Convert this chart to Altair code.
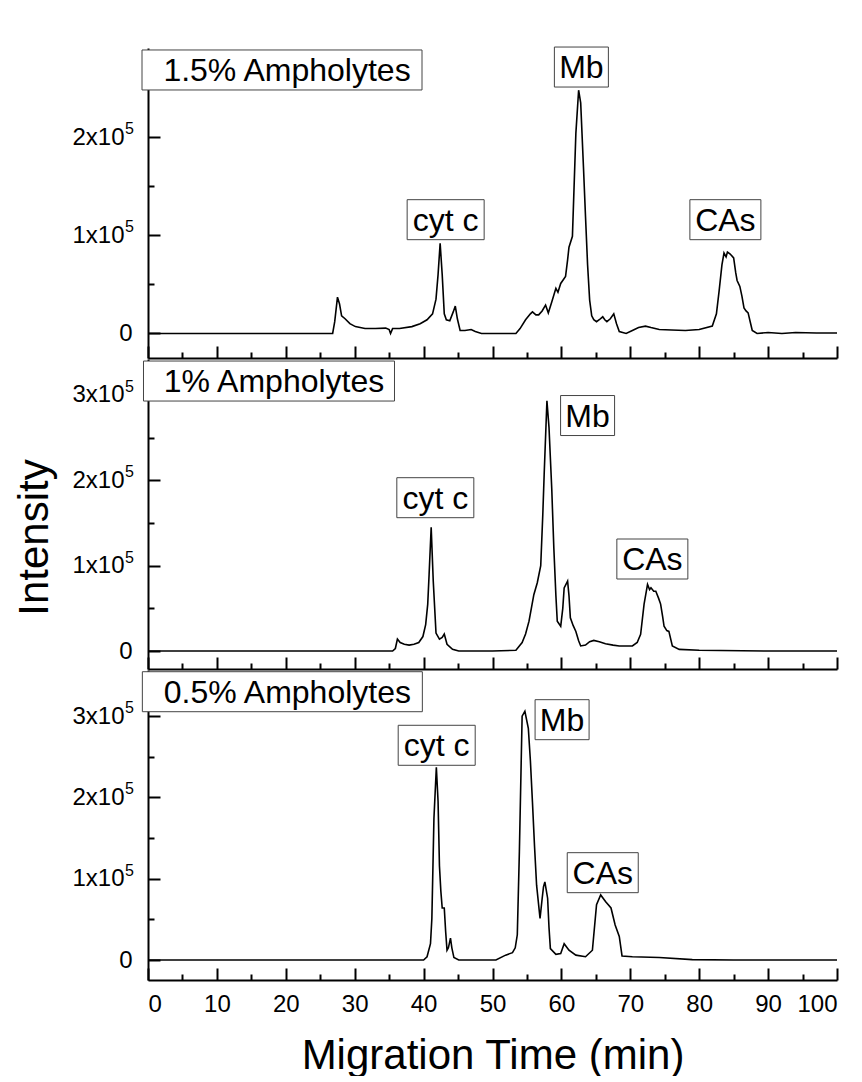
import altair as alt
import pandas as pd

FONT = "Liberation Sans"

# ---------------- data (intensity in units of 1e5) ----------------
top_time = [0, 10, 20, 26.8, 27.1, 27.5, 27.8, 28.1, 28.6, 29.3, 30.1, 31.5, 33, 34.5, 35.0, 35.2, 35.5,
            36.5, 38.3, 39.5, 40.5, 41.3, 41.8, 42.1, 42.4, 42.7, 43.0, 43.3, 43.8, 44.3, 44.6, 44.9,
            45.3, 46.0, 46.9, 47.5, 48.4, 50, 53.4, 54.0, 54.8, 55.5, 55.8, 56.3, 56.7, 57.2, 57.7,
            58.1, 58.6, 59.2, 59.5, 59.9, 60.3, 60.6, 60.9, 61.1, 61.6, 62.1, 62.5, 62.8, 63.2, 63.5,
            63.8, 64.1, 64.4, 64.7, 65.1, 65.5, 66.0, 66.3, 66.6, 67.1, 67.6, 68.0, 68.4, 69.4, 70.3,
            71.2, 72.2, 73.0, 74.2, 76, 78.0, 80, 81.9, 82.5, 82.9, 83.3, 83.6, 83.9, 84.1, 84.5, 85.0,
            85.3, 85.5, 85.9, 86.2, 86.5, 86.8, 87.1, 87.4, 87.7, 88.4, 90, 92, 94, 97, 100]
top_int = [0, 0, 0, 0, 0.12, 0.37, 0.30, 0.18, 0.15, 0.10, 0.07, 0.05, 0.05, 0.055, 0.04, 0.0, 0.05,
           0.05, 0.07, 0.10, 0.14, 0.20, 0.35, 0.60, 0.92, 0.60, 0.20, 0.14, 0.13, 0.22, 0.28, 0.15,
           0.03, 0.03, 0.04, 0.02, 0.0, 0.0, 0.0, 0.05, 0.14, 0.20, 0.22, 0.19, 0.19, 0.23, 0.29,
           0.21, 0.32, 0.46, 0.42, 0.51, 0.55, 0.58, 0.75, 0.88, 0.99, 2.04, 2.48, 2.35, 1.70, 1.19,
           0.70, 0.34, 0.18, 0.14, 0.12, 0.14, 0.17, 0.14, 0.12, 0.15, 0.20, 0.10, 0.02, 0.0, 0.03,
           0.06, 0.075, 0.06, 0.04, 0.035, 0.03, 0.04, 0.075, 0.20, 0.44, 0.70, 0.82, 0.78, 0.83, 0.81,
           0.77, 0.62, 0.54, 0.48, 0.38, 0.26, 0.23, 0.21, 0.12, 0.03, 0.0, 0.01, 0.0, 0.01, 0.005, 0.005]

mid_time = [0, 20, 35.5, 35.9, 36.2, 36.6, 37.2, 37.9, 38.6, 39.3, 39.9, 40.3, 40.6, 40.8, 41.1, 41.4,
            41.8, 42.3, 42.7, 43.0, 43.4, 44.2, 45.1, 50, 53.4, 54.3, 54.8, 55.3, 56.0, 56.5, 57.0,
            57.3, 57.5, 57.9, 58.2, 58.6, 58.9, 59.2, 59.4, 59.9, 60.2, 60.4, 60.9, 61.1, 61.3, 61.7,
            62.1, 62.5, 62.8, 63.5, 64.1, 64.7, 65.5, 66.4, 67.5, 68.4, 70.3, 71.0, 71.5, 72.0, 72.5,
            72.8, 73.0, 73.4, 73.7, 74.1, 74.4, 74.7, 74.9, 75.3, 75.6, 76.1, 77.1, 80, 90, 100]
mid_int = [0, 0, 0, 0.03, 0.14, 0.10, 0.08, 0.07, 0.08, 0.10, 0.17, 0.31, 0.55, 0.90, 1.45, 0.82,
           0.21, 0.14, 0.16, 0.20, 0.08, 0.02, 0.0, 0.0, 0.01, 0.10, 0.20, 0.35, 0.66, 0.80, 1.0,
           1.6, 2.07, 2.93, 2.62, 1.90, 1.21, 0.65, 0.35, 0.29, 0.50, 0.74, 0.82, 0.65, 0.39, 0.30,
           0.23, 0.12, 0.06, 0.07, 0.11, 0.125, 0.11, 0.086, 0.07, 0.06, 0.06, 0.10, 0.195, 0.55, 0.78,
           0.72, 0.74, 0.70, 0.70, 0.62, 0.55, 0.40, 0.29, 0.24, 0.23, 0.06, 0.02, 0.01, 0.0, 0.0]

bot_time = [0, 20, 40.0, 40.5, 41.0, 41.2, 41.5, 41.85, 42.1, 42.3, 42.5, 42.7, 43.0, 43.2, 43.4, 43.6,
            43.9, 44.1, 44.4, 45.1, 50.5, 51.9, 52.9, 53.3, 53.6, 53.9, 54.3, 54.7, 55.2, 55.5, 55.8,
            56.1, 56.4, 56.9, 57.2, 57.4, 57.6, 58.0, 58.2, 58.4, 59.2, 59.9, 60.4, 61.1, 62.1, 63.5,
            64.5, 65.1, 65.7, 66.4, 67.2, 67.8, 68.4, 68.8, 70.3, 74.2, 79.0, 85, 100]
bot_int = [0, 0, 0.0, 0.04, 0.20, 0.51, 1.74, 2.37, 1.95, 1.16, 0.85, 0.64, 0.64, 0.35, 0.12, 0.15,
           0.27, 0.15, 0.03, 0.0, 0.0, 0.06, 0.09, 0.15, 0.31, 1.33, 3.0, 3.06, 2.85, 2.45, 1.94,
           1.40, 0.92, 0.51, 0.75, 0.90, 0.96, 0.76, 0.40, 0.14, 0.07, 0.08, 0.20, 0.12, 0.06, 0.04,
           0.12, 0.68, 0.80, 0.72, 0.64, 0.43, 0.29, 0.05, 0.04, 0.03, 0.005, 0.0, 0.0]

# tick values
x_major = [0, 10, 20, 30, 40, 50, 60, 70, 80, 90, 100]
x_minor = [5, 15, 25, 35, 45, 55, 65, 75, 85, 95]
top_y_major = [0, 100000, 200000]
top_y_minor = [50000, 150000, 250000]
y_major = [0, 100000, 200000, 300000]
y_minor = [50000, 150000, 250000]
exponent_text = "5"

# y-axis ranges
top_domain = [-25000, 291000]
mid_domain = [-21000, 342000]
bot_domain = [-24600, 356700]

# annotations: label, time (min), intensity
top_notes_text = ["1.5% Ampholytes", "cyt c", "Mb", "CAs"]
top_notes_t = [19.45, 43.2, 62.9, 83.8]
top_notes_v = [268600, 116000, 271600, 116000]
mid_notes_text = ["1% Ampholytes", "cyt c", "Mb", "CAs"]
mid_notes_t = [17.56, 41.7, 63.8, 73.2]
mid_notes_v = [316200, 179600, 275800, 107800]
bot_notes_text = ["0.5% Ampholytes", "cyt c", "Mb", "CAs"]
bot_notes_t = [19.5, 41.9, 60.1, 66.0]
bot_notes_v = [330000, 264100, 295600, 107400]

# ---------------- styling ----------------
W, H = 689, 310
BOX_W = {"1.5% Ampholytes": 280, "1% Ampholytes": 251, "0.5% Ampholytes": 280,
         "cyt c": 77, "Mb": 54, "CAs": 71}
BOX_H = 40
NOTE_FS = 32
MAJ, MINR = 12, 6

Y_LABEL_EXPR = "datum.value == 0 ? '0' : format(datum.value / 100000, 'd') + 'x10'"
# the zero label sits closer to the axis; the others leave room for the exponent
Y_LABEL_PAD = {"condition": {"test": "datum.value == 0", "value": 16}, "value": 24}


def tick_axis(orient, values, size):
    return alt.Axis(orient=orient, values=values, offset=-size, tickSize=size, tickWidth=2,
                    tickColor="black", domain=False, labels=False, grid=False, title=None)


def panel(times, ints, ydom, ymaj, ymin, ntext, nt, nv, show_x=False, show_ytitle=False):
    df = pd.DataFrame({"t": times, "v": [i * 100000 for i in ints]})
    xs = alt.Scale(domain=[0, 100], nice=False, zero=False)
    ys = alt.Scale(domain=ydom, nice=False, zero=False)

    xaxis_kw = dict(orient="bottom", values=x_major, ticks=False, tickSize=0, domain=True,
                    domainWidth=2, domainColor="black", grid=False, labels=show_x)
    if show_x:
        xaxis_kw.update(labelFontSize=24, labelFont=FONT, labelColor="black", labelPadding=12,
                        labelOverlap=False, title="Migration Time (min)", titleFont=FONT,
                        titleFontSize=42, titleFontWeight="normal", titleColor="black",
                        titlePadding=19)
    else:
        xaxis_kw.update(title=None)

    yaxis_kw = dict(orient="left", values=ymaj, ticks=False, tickSize=0, domain=True,
                    domainWidth=2, domainColor="black", grid=False, labelExpr=Y_LABEL_EXPR,
                    labelFontSize=24, labelFont=FONT, labelColor="black",
                    labelPadding=Y_LABEL_PAD)
    if show_ytitle:
        yaxis_kw.update(title="Intensity", titleFont=FONT, titleFontSize=42,
                        titleFontWeight="normal", titleColor="black", titlePadding=15,
                        titleY=178)
    else:
        yaxis_kw.update(title=None)

    base = alt.Chart(df)
    line = base.mark_line(color="black", strokeWidth=1.6).encode(
        x=alt.X("t:Q", scale=xs, axis=alt.Axis(**xaxis_kw)),
        y=alt.Y("v:Q", scale=ys, axis=alt.Axis(**yaxis_kw)),
    )
    major = base.mark_line(strokeOpacity=0).encode(
        x=alt.X("t:Q", scale=xs, axis=tick_axis("bottom", x_major, MAJ)),
        y=alt.Y("v:Q", scale=ys, axis=tick_axis("left", ymaj, MAJ)),
    )
    minor = base.mark_line(strokeOpacity=0).encode(
        x=alt.X("t:Q", scale=xs, axis=tick_axis("bottom", x_minor, MINR)),
        y=alt.Y("v:Q", scale=ys, axis=tick_axis("left", ymin, MINR)),
    )
    # raised exponent of the "Nx10^5" tick labels
    sup_vals = [v for v in ymaj if v != 0]
    sup_df = pd.DataFrame({"v": sup_vals, "s": [exponent_text] * len(sup_vals)})
    sup = alt.Chart(sup_df).mark_text(
        font=FONT, fontSize=16, color="black", align="left", baseline="middle", dy=-8,
    ).encode(
        x=alt.value(-23),
        y=alt.Y("v:Q", scale=ys, axis=None),
        text="s:N",
    )

    layers = [line, major, minor, sup]
    for i, (txt, t, v) in enumerate(zip(ntext, nt, nv)):
        nd = pd.DataFrame({"t": [t], "v": [v], "label": [txt]})
        w = BOX_W[txt]
        box = alt.Chart(nd).mark_rect(
            fill="white", stroke="#444444", strokeWidth=1,
            xOffset=-w / 2, x2Offset=w / 2, yOffset=-BOX_H / 2, y2Offset=BOX_H / 2,
        ).encode(
            x=alt.X("t:Q", scale=xs, axis=None), x2="t:Q",
            y=alt.Y("v:Q", scale=ys, axis=None), y2="v:Q",
        )
        label = alt.Chart(nd).mark_text(
            font=FONT, fontSize=NOTE_FS, color="black", align="center", baseline="middle",
            dx=5 if i == 0 else 0, dy=1,
        ).encode(
            x=alt.X("t:Q", scale=xs, axis=None),
            y=alt.Y("v:Q", scale=ys, axis=None),
            text="label:N",
        )
        layers += [box, label]

    return alt.layer(*layers).resolve_axis(x="independent", y="independent").properties(
        width=W, height=H)


p1 = panel(top_time, top_int, top_domain, top_y_major, top_y_minor,
           top_notes_text, top_notes_t, top_notes_v)
p2 = panel(mid_time, mid_int, mid_domain, y_major, y_minor,
           mid_notes_text, mid_notes_t, mid_notes_v, show_ytitle=True)
p3 = panel(bot_time, bot_int, bot_domain, y_major, y_minor,
           bot_notes_text, bot_notes_t, bot_notes_v, show_x=True)

chart = alt.vconcat(p1, p2, p3, spacing=0).properties(
    padding={"left": 5, "top": 38, "right": 10, "bottom": 0},
    background="white",
).configure_view(strokeWidth=0)

chart.save("out.html", embed_options={"renderer": "svg", "actions": False})
